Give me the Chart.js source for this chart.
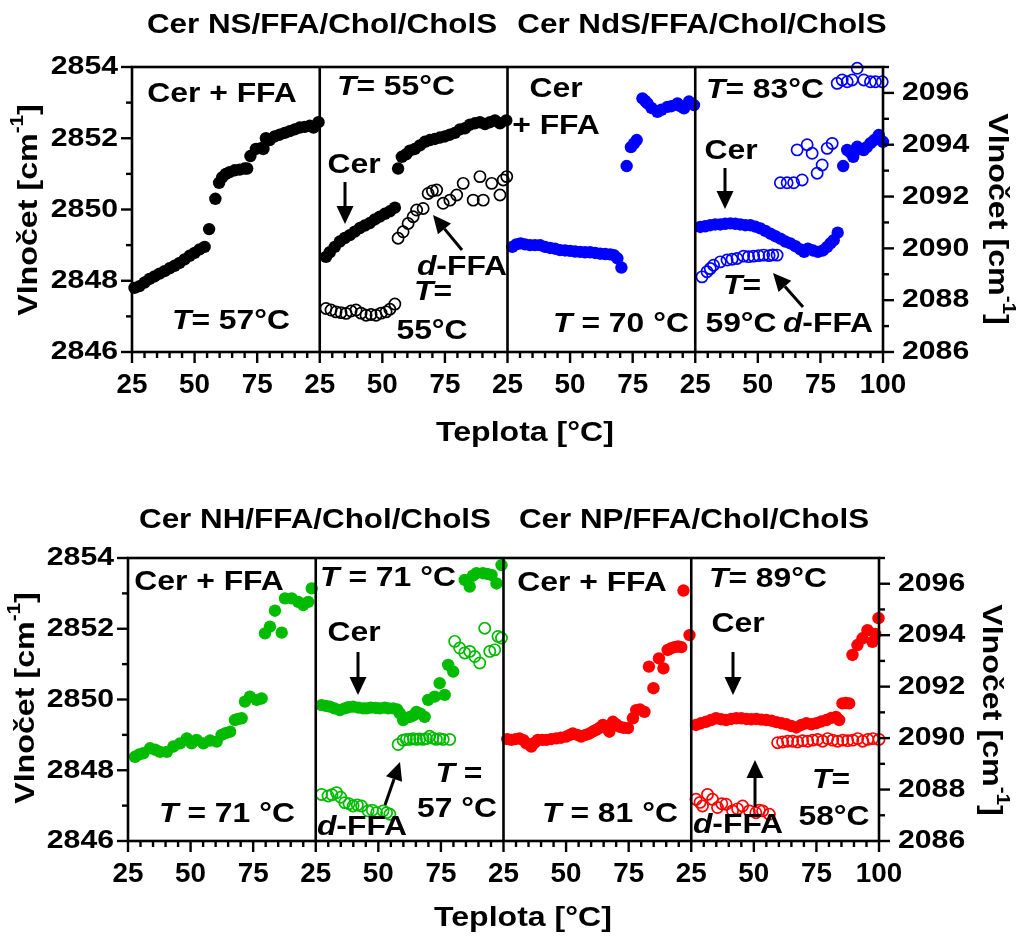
<!DOCTYPE html>
<html>
<head>
<meta charset="utf-8">
<script src="https://cdn.jsdelivr.net/npm/chart.js@4.4.1/dist/chart.umd.min.js"></script>
<style>
  body { margin: 0; background: #fff; }
  canvas { position: absolute; left: 0; }
</style>
</head>
<body>
<canvas id="rowTop" width="1021" height="470" style="top:0"></canvas>
<canvas id="rowBottom" width="1021" height="471" style="top:470px"></canvas>
<script>
// ---- data: temperature [°C] and wavenumber [cm-1] per panel ----
// Cer NS/FFA/Chol/CholS
const nsMixT = [26, 28, 30, 32, 34, 36, 38, 40, 42, 44, 46, 48, 50, 52, 54, 55.8, 58.3, 59.8, 61, 62.5, 64, 66, 68, 70, 71, 72.3, 74.5, 76.5, 77.5, 78.5, 80, 82, 84, 86, 88, 90, 92, 94, 96, 97.5, 99.5];
const nsMixV = [2847.8, 2847.85, 2847.95, 2848.05, 2848.12, 2848.2, 2848.27, 2848.35, 2848.42, 2848.5, 2848.6, 2848.7, 2848.78, 2848.88, 2848.95, 2849.45, 2850.3, 2850.75, 2850.9, 2851.0, 2851.05, 2851.1, 2851.12, 2851.15, 2851.15, 2851.5, 2851.7, 2851.72, 2851.7, 2852.0, 2851.95, 2852.05, 2852.1, 2852.15, 2852.2, 2852.25, 2852.3, 2852.32, 2852.35, 2852.3, 2852.45];
const nsCerT = [27.5, 29, 31, 33, 35, 37, 39, 41, 43, 45, 47, 49, 51, 53, 55, 56.3, 57.8, 59.5, 61, 63, 65, 67, 69, 71, 73, 75, 77, 79, 81, 83, 85, 87, 89, 91, 93, 95, 97, 99.5];
const nsCerV = [2848.67, 2848.8, 2848.95, 2849.1, 2849.2, 2849.28, 2849.38, 2849.48, 2849.55, 2849.62, 2849.72, 2849.8, 2849.88, 2849.95, 2850.05, 2851.15, 2851.48, 2851.55, 2851.65, 2851.7, 2851.8, 2851.9, 2851.95, 2851.98, 2852.02, 2852.05, 2852.1, 2852.15, 2852.25, 2852.28, 2852.38, 2852.42, 2852.45, 2852.4, 2852.45, 2852.5, 2852.42, 2852.5];
const nsFfaT = [27.5, 29.5, 31.5, 33.5, 35.5, 37.5, 39.5, 41.5, 43.5, 45.5, 47.5, 49.5, 51.5, 53, 55, 56.3, 58.3, 60.3, 62.3, 63.7, 66.3, 68.3, 70, 71.7, 74.3, 77, 79.7, 82.3, 86.3, 89, 90.3, 93.7, 97, 98.3, 99.7];
const nsFfaV = [2087.68, 2087.62, 2087.55, 2087.52, 2087.49, 2087.58, 2087.62, 2087.5, 2087.42, 2087.45, 2087.42, 2087.5, 2087.55, 2087.65, 2087.85, 2090.39, 2090.64, 2090.96, 2091.22, 2091.48, 2091.54, 2092.12, 2092.22, 2092.25, 2091.74, 2091.86, 2092.06, 2092.51, 2091.86, 2092.77, 2091.86, 2092.51, 2092.06, 2092.64, 2092.77];
// Cer NdS/FFA/Chol/CholS
const ndsMixT = [26.9, 28.5, 30.2, 32, 34, 36, 38, 40, 42, 44, 46, 48, 50, 52, 54, 56, 58, 60, 62, 64, 66, 67.5, 68.9, 70.5, 72.6, 74.3, 75.5, 76.6, 78.9, 80, 80.9, 82.5, 84.9, 86.5, 88.9, 90.5, 92.9, 94, 95.5, 97.5, 99.5];
const ndsMixV = [2848.95, 2849.02, 2849.05, 2849.02, 2849.0, 2849.0, 2849.0, 2848.95, 2848.92, 2848.9, 2848.86, 2848.85, 2848.84, 2848.82, 2848.81, 2848.8, 2848.8, 2848.78, 2848.76, 2848.75, 2848.74, 2848.72, 2848.63, 2848.37, 2851.22, 2851.75, 2851.85, 2851.95, 2853.12, 2853.05, 2852.98, 2852.85, 2852.74, 2852.8, 2852.88, 2852.9, 2852.98, 2852.9, 2852.84, 2853.03, 2852.93];
const ndsCerT = [27, 29, 31, 33, 35, 37, 39, 41, 43, 45, 47, 49, 51, 53, 55, 57, 59, 61, 63, 65, 67, 68.5, 70, 72, 74, 76, 77.7, 79, 80.3, 81.9, 84.1, 85.7, 87, 88.1, 89.7, 91, 92.3, 93.5, 95, 96.5, 98.3, 100];
const ndsCerV = [2849.51, 2849.53, 2849.56, 2849.58, 2849.58, 2849.6, 2849.61, 2849.6, 2849.58, 2849.56, 2849.56, 2849.52, 2849.47, 2849.4, 2849.32, 2849.25, 2849.18, 2849.1, 2849.05, 2848.97, 2848.88, 2848.81, 2848.9, 2848.85, 2848.81, 2848.85, 2848.95, 2849.05, 2849.14, 2849.35, 2851.22, 2851.67, 2851.6, 2851.48, 2851.76, 2851.7, 2851.67, 2851.75, 2851.86, 2851.95, 2852.09, 2851.9];
const ndsFfaT = [27.7, 29.7, 31, 32.3, 35, 37.7, 39.7, 41.7, 44.3, 46.3, 48.3, 50.3, 52.3, 54.5, 56, 57.7, 59, 61.7, 64.3, 65.7, 67.7, 69.7, 71.7, 73.7, 75.7, 77.7, 79.7, 81.7, 83.7, 85.7, 87.7, 89.7, 92.3, 95, 97, 99.7];
const ndsFfaV = [2088.9, 2089.1, 2089.22, 2089.35, 2089.48, 2089.55, 2089.58, 2089.61, 2089.7, 2089.68, 2089.7, 2089.72, 2089.74, 2089.72, 2089.75, 2089.74, 2092.53, 2092.53, 2092.53, 2093.8, 2092.64, 2094.0, 2093.67, 2092.9, 2093.22, 2093.86, 2094.05, 2096.37, 2096.5, 2096.43, 2096.5, 2096.95, 2096.5, 2096.43, 2096.43, 2096.43];
// Cer NH/FFA/Chol/CholS
const nhMixT = [27.8, 29.5, 31.1, 33.8, 35.8, 37.8, 40.5, 43.1, 45.8, 48.5, 50.4, 52.4, 55.1, 57.8, 60.4, 62.4, 64, 65.8, 67.7, 69, 70.4, 71.7, 73.7, 76.4, 78.4, 79.7, 81.7, 83.7, 86.4, 87.7, 90.4, 93, 95, 97, 98.4];
const nhMixV = [2848.38, 2848.45, 2848.48, 2848.62, 2848.58, 2848.52, 2848.52, 2848.67, 2848.76, 2848.9, 2848.76, 2848.86, 2848.76, 2848.84, 2848.81, 2849.0, 2849.05, 2849.09, 2849.42, 2849.45, 2849.47, 2849.94, 2850.08, 2849.99, 2850.03, 2851.87, 2852.06, 2852.51, 2851.89, 2852.86, 2852.86, 2852.76, 2852.67, 2852.76, 2853.14];
const nhCerT = [27.3, 29, 30.6, 32.5, 34.6, 36.5, 38, 39.9, 42, 44, 45.3, 47, 49, 50.6, 52.5, 54, 55.9, 57.5, 58.6, 59.9, 61, 62.6, 64, 65.2, 66.8, 68.5, 69.9, 72.5, 74.5, 76.5, 77.9, 79.9, 84.5, 86.5, 87.8, 89.2, 91.8, 93.5, 95.2, 97.2, 99.2];
const nhCerV = [2849.84, 2849.82, 2849.8, 2849.75, 2849.7, 2849.75, 2849.78, 2849.8, 2849.77, 2849.75, 2849.75, 2849.77, 2849.76, 2849.75, 2849.77, 2849.75, 2849.75, 2849.72, 2849.61, 2849.42, 2849.48, 2849.51, 2849.55, 2849.65, 2849.6, 2849.51, 2849.99, 2850.08, 2850.46, 2850.13, 2850.98, 2850.79, 2853.38, 2853.19, 2853.5, 2853.57, 2853.57, 2853.55, 2853.52, 2853.28, 2853.8];
const nhFfaT = [27.3, 29.9, 31.5, 33.3, 35, 36.6, 38.3, 39.9, 41.6, 43.3, 45.9, 47.6, 49.3, 51.9, 53.3, 54.6, 57.9, 59.9, 61.2, 62.6, 64, 65.2, 66.5, 67.9, 69.2, 70.5, 71.8, 73.2, 74.5, 75.9, 78.5, 80.5, 82.5, 84.5, 86.5, 88.5, 90.5, 92.5, 94.5, 96.5, 97.8, 99.2];
const nhFfaV = [2087.81, 2087.75, 2087.8, 2087.88, 2087.7, 2087.49, 2087.45, 2087.36, 2087.4, 2087.36, 2087.17, 2087.2, 2087.1, 2087.17, 2087.1, 2087.04, 2089.75, 2089.92, 2089.95, 2089.95, 2089.98, 2089.95, 2089.97, 2089.95, 2089.98, 2090.07, 2090.0, 2089.95, 2089.98, 2089.95, 2089.95, 2093.76, 2093.5, 2093.31, 2093.37, 2093.17, 2092.92, 2094.27, 2093.37, 2093.43, 2093.95, 2093.89];
// Cer NP/FFA/Chol/CholS
const npMixT = [26.5, 28.1, 29.8, 31.4, 33, 34.1, 36.1, 37.5, 38.7, 40.5, 42.1, 44, 46.1, 48, 50.1, 51.5, 52.7, 54.5, 56, 57.8, 59.4, 60.8, 62, 63.4, 64.7, 66, 67.3, 68.7, 70, 71.3, 73, 74.7, 76.7, 78, 79.5, 81.3, 83.1, 84.9, 87.1, 88.9, 90.6, 92, 93.3, 94.7, 96, 96.9, 99.3];
const npMixV = [2848.88, 2848.86, 2848.88, 2848.9, 2848.85, 2848.76, 2848.67, 2848.78, 2848.86, 2848.86, 2848.86, 2848.88, 2848.9, 2848.92, 2848.95, 2849.0, 2849.04, 2849.0, 2848.95, 2849.0, 2849.04, 2849.1, 2849.14, 2849.2, 2849.28, 2849.2, 2849.09, 2849.37, 2849.3, 2849.23, 2849.2, 2849.19, 2849.47, 2849.7, 2849.72, 2849.65, 2850.93, 2850.32, 2851.16, 2850.88, 2851.4, 2851.45, 2851.48, 2851.5, 2851.48, 2853.08, 2851.82];
const npCerT = [26.9, 28.9, 30.9, 32.9, 34.9, 36.9, 38.9, 41, 43, 45, 47, 49, 51, 53, 55, 57, 59, 61, 63, 65, 67, 69, 71, 73, 75, 77, 79, 81, 82.8, 84.1, 85.4, 86.8, 88.1, 89.4, 91.4, 93.4, 95.4, 97.4, 98.5, 99.8];
const npCerV = [2849.28, 2849.33, 2849.37, 2849.42, 2849.47, 2849.44, 2849.42, 2849.45, 2849.47, 2849.47, 2849.45, 2849.44, 2849.45, 2849.43, 2849.42, 2849.4, 2849.36, 2849.33, 2849.3, 2849.25, 2849.21, 2849.28, 2849.33, 2849.3, 2849.33, 2849.38, 2849.42, 2849.48, 2849.51, 2849.42, 2849.89, 2849.9, 2849.89, 2851.26, 2851.54, 2851.73, 2851.96, 2851.63, 2851.85, 2852.3];
const npFfaT = [26.9, 28.5, 29.5, 31.5, 33.5, 35.5, 37.2, 38.9, 41.5, 43.5, 45.5, 48.2, 50.8, 52.2, 53.5, 56.2, 59.5, 61.5, 63.5, 65.5, 67.5, 69.5, 71.5, 73.5, 75.5, 77.5, 79.5, 81.5, 83.5, 85.5, 87.5, 89.5, 91.5, 93.5, 95.5, 97.5, 100];
const npFfaV = [2087.62, 2087.5, 2087.36, 2087.81, 2087.62, 2087.3, 2087.45, 2087.43, 2087.17, 2087.25, 2087.36, 2087.17, 2087.1, 2087.2, 2087.17, 2087.04, 2089.82, 2089.85, 2089.88, 2089.88, 2089.85, 2089.9, 2089.88, 2089.92, 2089.95, 2089.88, 2089.98, 2089.92, 2089.88, 2089.92, 2089.9, 2089.92, 2089.98, 2089.88, 2089.95, 2089.98, 2089.95];

// axes
const panelSpan = 75;            // each panel covers 25..100 °C
const xTickStep = 25;
const leftRange = [2846, 2854];
const rightRange = [2086, 2097];

const FONT = '"Liberation Sans", Arial, Helvetica, sans-serif';

function pts(ts, vs, panel) {
  return ts.map((t, i) => ({ x: t + panelSpan * panel, y: vs[i] }));
}

function filled(ts, vs, panel, color) {
  return {
    data: pts(ts, vs, panel), yAxisID: 'y', clip: false,
    pointRadius: 6.2, pointBackgroundColor: color, pointBorderColor: color, pointBorderWidth: 0
  };
}

function hollow(ts, vs, panel, color) {
  return {
    data: pts(ts, vs, panel), yAxisID: 'y2', clip: false,
    pointRadius: 5.6, pointBackgroundColor: 'rgba(0,0,0,0)', pointBorderColor: color, pointBorderWidth: 1.7
  };
}

// text with *italic* parts, centred on cx,cy
function richText(ctx, str, cx, cy, size, stretch, align) {
  const parts = str.split('*').map((t, i) => ({ t, it: i % 2 === 1 })).filter(p => p.t);
  const fontOf = p => (p.it ? 'italic ' : '') + 'bold ' + size + 'px ' + FONT;
  let total = 0;
  parts.forEach(p => { ctx.font = fontOf(p); p.w = ctx.measureText(p.t).width; total += p.w; });
  ctx.save();
  ctx.translate(cx, cy);
  ctx.scale(stretch, 1);
  let x = align === 'right' ? -total : align === 'left' ? 0 : -total / 2;
  ctx.textBaseline = 'middle';
  ctx.textAlign = 'left';
  ctx.fillStyle = '#000';
  parts.forEach(p => { ctx.font = fontOf(p); ctx.fillText(p.t, x, 0); x += p.w; });
  ctx.restore();
}

function arrow(ctx, x1, y1, x2, y2) {
  const ang = Math.atan2(y2 - y1, x2 - x1);
  const hl = 18, hw = 8.5;
  const bx = x2 - hl * Math.cos(ang), by = y2 - hl * Math.sin(ang);
  ctx.save();
  ctx.strokeStyle = '#000';
  ctx.fillStyle = '#000';
  ctx.lineWidth = 3;
  ctx.beginPath(); ctx.moveTo(x1, y1); ctx.lineTo(bx, by); ctx.stroke();
  ctx.beginPath();
  ctx.moveTo(x2, y2);
  ctx.lineTo(bx + hw * Math.sin(ang), by - hw * Math.cos(ang));
  ctx.lineTo(bx - hw * Math.sin(ang), by + hw * Math.cos(ang));
  ctx.closePath(); ctx.fill();
  ctx.restore();
}

// "Vlnočet [cm-1]" rotated
function yTitle(ctx, cx, cy, rot) {
  const size = 28, sup = 18, stretch = 1.15;
  const a = 'Vlnočet [cm', b = '-1', c = ']';
  ctx.save();
  ctx.font = 'bold ' + size + 'px ' + FONT;
  const wa = ctx.measureText(a).width, wc = ctx.measureText(c).width;
  ctx.font = 'bold ' + sup + 'px ' + FONT;
  const wb = ctx.measureText(b).width;
  const total = wa + wb + wc;
  ctx.translate(cx, cy);
  ctx.rotate(rot);
  ctx.scale(stretch, 1);
  ctx.fillStyle = '#000';
  ctx.textBaseline = 'middle';
  ctx.textAlign = 'left';
  let x = -total / 2;
  ctx.font = 'bold ' + size + 'px ' + FONT;
  ctx.fillText(a, x, 0); x += wa;
  ctx.font = 'bold ' + sup + 'px ' + FONT;
  ctx.fillText(b, x, -11); x += wb;
  ctx.font = 'bold ' + size + 'px ' + FONT;
  ctx.fillText(c, x, 0);
  ctx.restore();
}

const framePlugin = {
  id: 'frame',
  afterDatasetsDraw(chart, args, opts) {
    const ctx = chart.ctx;
    const { left, right, top, bottom } = chart.chartArea;
    const xs = chart.scales.x, ys = chart.scales.y, y2 = chart.scales.y2;
    ctx.save();
    ctx.strokeStyle = '#000';
    ctx.lineWidth = 2.6;
    ctx.strokeRect(left, top, right - left, bottom - top);
    // panel dividers
    for (let v = xs.min + panelSpan; v < xs.max; v += panelSpan) {
      const px = xs.getPixelForValue(v);
      ctx.beginPath(); ctx.moveTo(px, top); ctx.lineTo(px, bottom); ctx.stroke();
    }
    // tick marks, long on labelled values
    ctx.lineWidth = 2.4;
    for (let v = xs.min; v <= xs.max; v += 5) {
      const px = xs.getPixelForValue(v);
      const len = (v - xs.min) % xTickStep === 0 ? 11 : 6;
      ctx.beginPath(); ctx.moveTo(px, bottom); ctx.lineTo(px, bottom + len); ctx.stroke();
    }
    for (let v = ys.min; v <= ys.max; v += 1) {
      const py = ys.getPixelForValue(v);
      const len = (v - ys.min) % 2 === 0 ? 11 : 6;
      ctx.beginPath(); ctx.moveTo(left, py); ctx.lineTo(left - len, py); ctx.stroke();
    }
    for (let v = y2.min; v <= y2.max; v += 1) {
      const py = y2.getPixelForValue(v);
      const len = (v - y2.min) % 2 === 0 ? 11 : 6;
      ctx.beginPath(); ctx.moveTo(right, py); ctx.lineTo(right + len, py); ctx.stroke();
    }
    ctx.restore();

    // tick labels from the scales
    xs.ticks.forEach(t => {
      const lbl = t.value === xs.max ? '100' : String((t.value - 25) % panelSpan + 25);
      richText(ctx, lbl, xs.getPixelForValue(t.value), bottom + 34, 27, 1.03);
    });
    ys.ticks.forEach(t => richText(ctx, String(t.value), left - 14, ys.getPixelForValue(t.value), 26.5, 1.14, 'right'));
    y2.ticks.forEach(t => richText(ctx, String(t.value), right + 19, y2.getPixelForValue(t.value), 26.5, 1.14, 'left'));

    // titles, axis titles, notes, arrows
    opts.titles.forEach(t => richText(ctx, t[0], t[1], t[2], 28, 1.12));
    richText(ctx, 'Teplota [°C]', opts.xTitle[0], opts.xTitle[1], 28, 1.145);
    yTitle(ctx, opts.yLeft[0], opts.yLeft[1], -Math.PI / 2);
    yTitle(ctx, opts.yRight[0], opts.yRight[1], Math.PI / 2);
    opts.notes.forEach(n => richText(ctx, n[0], n[1], n[2], 27, 1.18));
    opts.arrows.forEach(a => arrow(ctx, a[0], a[1], a[2], a[3]));
  }
};

function makeRow(id, datasets, box, deco) {
  const canvas = document.getElementById(id);
  const W = canvas.width, H = canvas.height;
  return new Chart(canvas, {
    type: 'scatter',
    data: { datasets },
    plugins: [framePlugin],
    options: {
      responsive: false,
      animation: false,
      events: [],
      devicePixelRatio: 1,
      layout: { padding: { top: box.top, left: 0, right: 0, bottom: 0 } },
      plugins: { legend: { display: false }, tooltip: { enabled: false }, frame: deco },
      scales: {
        x: {
          type: 'linear', min: 25, max: 25 + 4 * panelSpan,
          ticks: { display: false, stepSize: xTickStep },
          grid: { display: false }, border: { display: false },
          afterFit: s => { s.height = H - box.bottom; }
        },
        y: {
          position: 'left', min: leftRange[0], max: leftRange[1],
          ticks: { display: false, stepSize: 2 },
          grid: { display: false }, border: { display: false },
          afterFit: s => { s.width = box.left; }
        },
        y2: {
          position: 'right', min: rightRange[0], max: rightRange[1],
          ticks: { display: false, stepSize: 2, includeBounds: false },
          grid: { display: false }, border: { display: false },
          afterFit: s => { s.width = W - box.right; }
        }
      }
    }
  });
}

const BLACK = '#000000', BLUE = '#0000ff', GREEN = '#00bb00', RED = '#ff0000';

makeRow('rowTop', [
  filled(nsMixT, nsMixV, 0, BLACK),
  filled(nsCerT, nsCerV, 1, BLACK),
  hollow(nsFfaT, nsFfaV, 1, BLACK),
  filled(ndsMixT, ndsMixV, 2, BLUE),
  filled(ndsCerT, ndsCerV, 3, BLUE),
  hollow(ndsFfaT, ndsFfaV, 3, BLUE)
], { left: 132, right: 883, top: 67, bottom: 352 }, {
  titles: [['Cer NS/FFA/Chol/CholS', 322, 25], ['Cer NdS/FFA/Chol/CholS', 702, 25]],
  xTitle: [525, 433],
  yLeft: [29, 210],
  yRight: [997, 219],
  notes: [
    ['Cer + FFA', 222, 95], ['*T*= 57°C', 231, 322],
    ['*T*= 55°C', 396, 88], ['Cer', 354, 166], ['*d*-FFA', 462, 268], ['*T*=', 433, 293], ['55°C', 432, 332],
    ['Cer', 556, 90], ['+ FFA', 556, 127], ['*T* = 70 °C', 621, 325],
    ['*T*= 83°C', 765, 91], ['Cer', 731, 152], ['*T*=', 742, 287], ['59°C', 741, 325], ['*d*-FFA', 828, 325]
  ],
  arrows: [[345, 182, 345, 224], [462, 250, 433, 215], [725, 168, 725, 209], [803, 307, 773, 273]]
});

makeRow('rowBottom', [
  filled(nhMixT, nhMixV, 0, GREEN),
  filled(nhCerT, nhCerV, 1, GREEN),
  hollow(nhFfaT, nhFfaV, 1, GREEN),
  filled(npMixT, npMixV, 2, RED),
  filled(npCerT, npCerV, 3, RED),
  hollow(npFfaT, npFfaV, 3, RED)
], { left: 128, right: 879, top: 88, bottom: 371 }, {
  titles: [['Cer NH/FFA/Chol/CholS', 315, 50], ['Cer NP/FFA/Chol/CholS', 694, 50]],
  xTitle: [523, 448],
  yLeft: [26, 228],
  yRight: [991, 240],
  notes: [
    ['Cer + FFA', 209, 113], ['*T* = 71 °C', 227, 345],
    ['*T* = 71 °C', 388, 109], ['Cer', 354, 164], ['*d*-FFA', 362, 358], ['*T* =', 459, 305], ['57 °C', 457, 340],
    ['Cer + FFA', 592, 114], ['*T* = 81 °C', 610, 345],
    ['*T*= 89°C', 768, 110], ['Cer', 738, 155], ['*d*-FFA', 738, 356], ['*T*=', 831, 311], ['58°C', 834, 348]
  ],
  arrows: [[358, 182, 358, 225], [385, 335, 400, 292], [733, 182, 733, 225], [755, 337, 755, 290]]
});
</script>
</body>
</html>
